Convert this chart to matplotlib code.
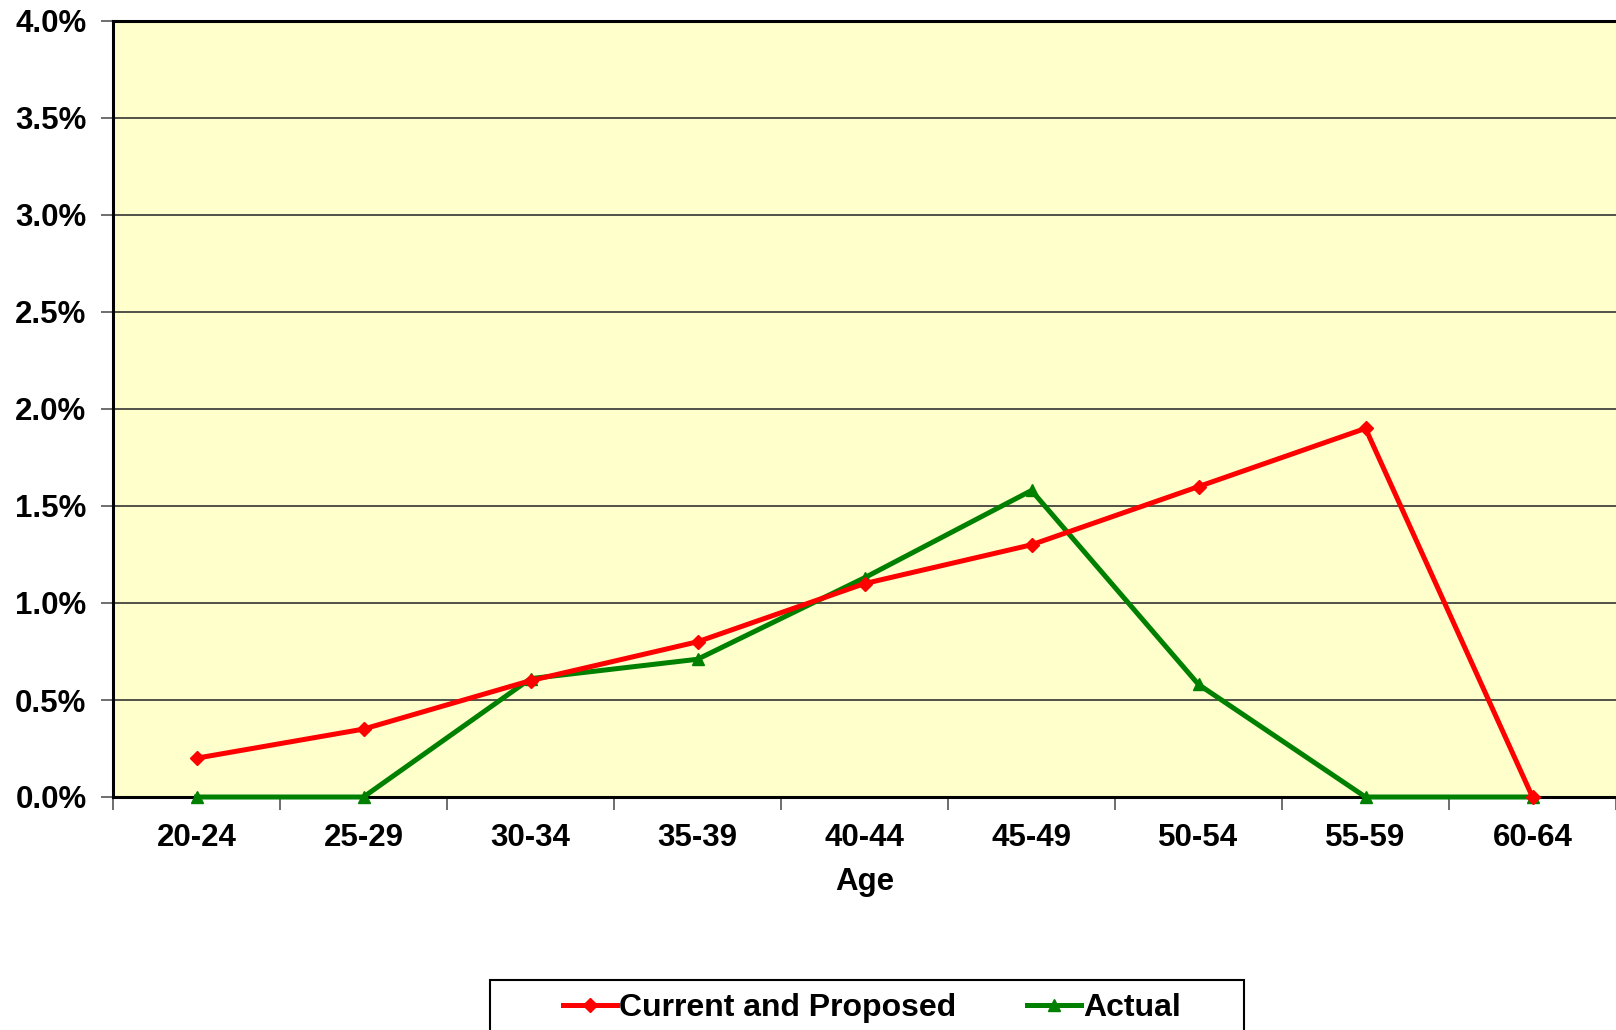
import matplotlib
matplotlib.use("Agg")
import matplotlib.pyplot as plt
from matplotlib.patches import Rectangle
from matplotlib.ticker import FuncFormatter

plt.rcParams['font.family'] = ['Liberation Sans', 'DejaVu Sans']
plt.rcParams['font.weight'] = 'bold'

age_groups = ["20-24", "25-29", "30-34", "35-39", "40-44", "45-49", "50-54", "55-59", "60-64"]
current_proposed = [0.20, 0.35, 0.60, 0.80, 1.10, 1.30, 1.60, 1.90, 0.00]
actual = [0.00, 0.00, 0.61, 0.71, 1.13, 1.58, 0.58, 0.00, 0.00]
y_ticks = [0.0, 0.5, 1.0, 1.5, 2.0, 2.5, 3.0, 3.5, 4.0]

W, H = 1616, 1030
fig = plt.figure(figsize=(W / 100, H / 100), dpi=100)
ax = fig.add_axes([113 / W, 1 - 797 / H, 1 - 113 / W, (797 - 21) / H])
ax.set_facecolor('#FFFFCC')

x = list(range(len(age_groups)))
ax.plot(x, current_proposed, color='#FF0000', lw=3.6, marker='D', ms=7,
        label='Current and Proposed', zorder=4, clip_on=False)
ax.plot(x, actual, color='#008000', lw=3.6, marker='^', ms=9,
        label='Actual', zorder=3, clip_on=False)

ax.set_xlim(-0.5, len(age_groups) - 0.5)
ax.set_ylim(0, 4.0)
ax.set_yticks(y_ticks)
ax.yaxis.set_major_formatter(FuncFormatter(lambda v, p: f"{v:.1f}%"))
ax.yaxis.grid(True, color='#333333', lw=1.2)
ax.set_axisbelow(True)

# Category labels at centres, tick marks at category boundaries
ax.set_xticks(x)
ax.set_xticklabels(age_groups, fontsize=22.5, fontweight='bold')
ax.set_xticks([i - 0.5 for i in range(len(age_groups) + 1)], minor=True)
ax.tick_params(axis='x', which='major', length=0, pad=19)
ax.tick_params(axis='x', which='minor', length=9, width=1.2, color='#555555')
ax.tick_params(axis='y', length=9, width=1.2, color='#555555', labelsize=22.5, pad=10)
for lab in ax.get_yticklabels():
    lab.set_fontweight('bold')

for side in ('left', 'bottom', 'top'):
    ax.spines[side].set_linewidth(2.2)
    ax.spines[side].set_color('black')
ax.spines['right'].set_visible(False)

ax.set_xlabel('Age', fontsize=22.5, fontweight='bold', labelpad=10)

# Legend box below the axes
fig.patches.append(Rectangle((490 / W, 1 - 1045 / H), (1244 - 490) / W, (1045 - 980) / H,
                             transform=fig.transFigure, facecolor='white',
                             edgecolor='black', lw=1.5, zorder=1))
fig.legend(loc='center', bbox_to_anchor=(872 / W, 1 - 1008 / H), ncol=2, frameon=False,
           prop={'size': 23, 'weight': 'bold'}, handlelength=1.7, handletextpad=0.08,
           columnspacing=2.2, borderaxespad=0, numpoints=1)

fig.savefig('out.png', dpi=100, facecolor='white')
